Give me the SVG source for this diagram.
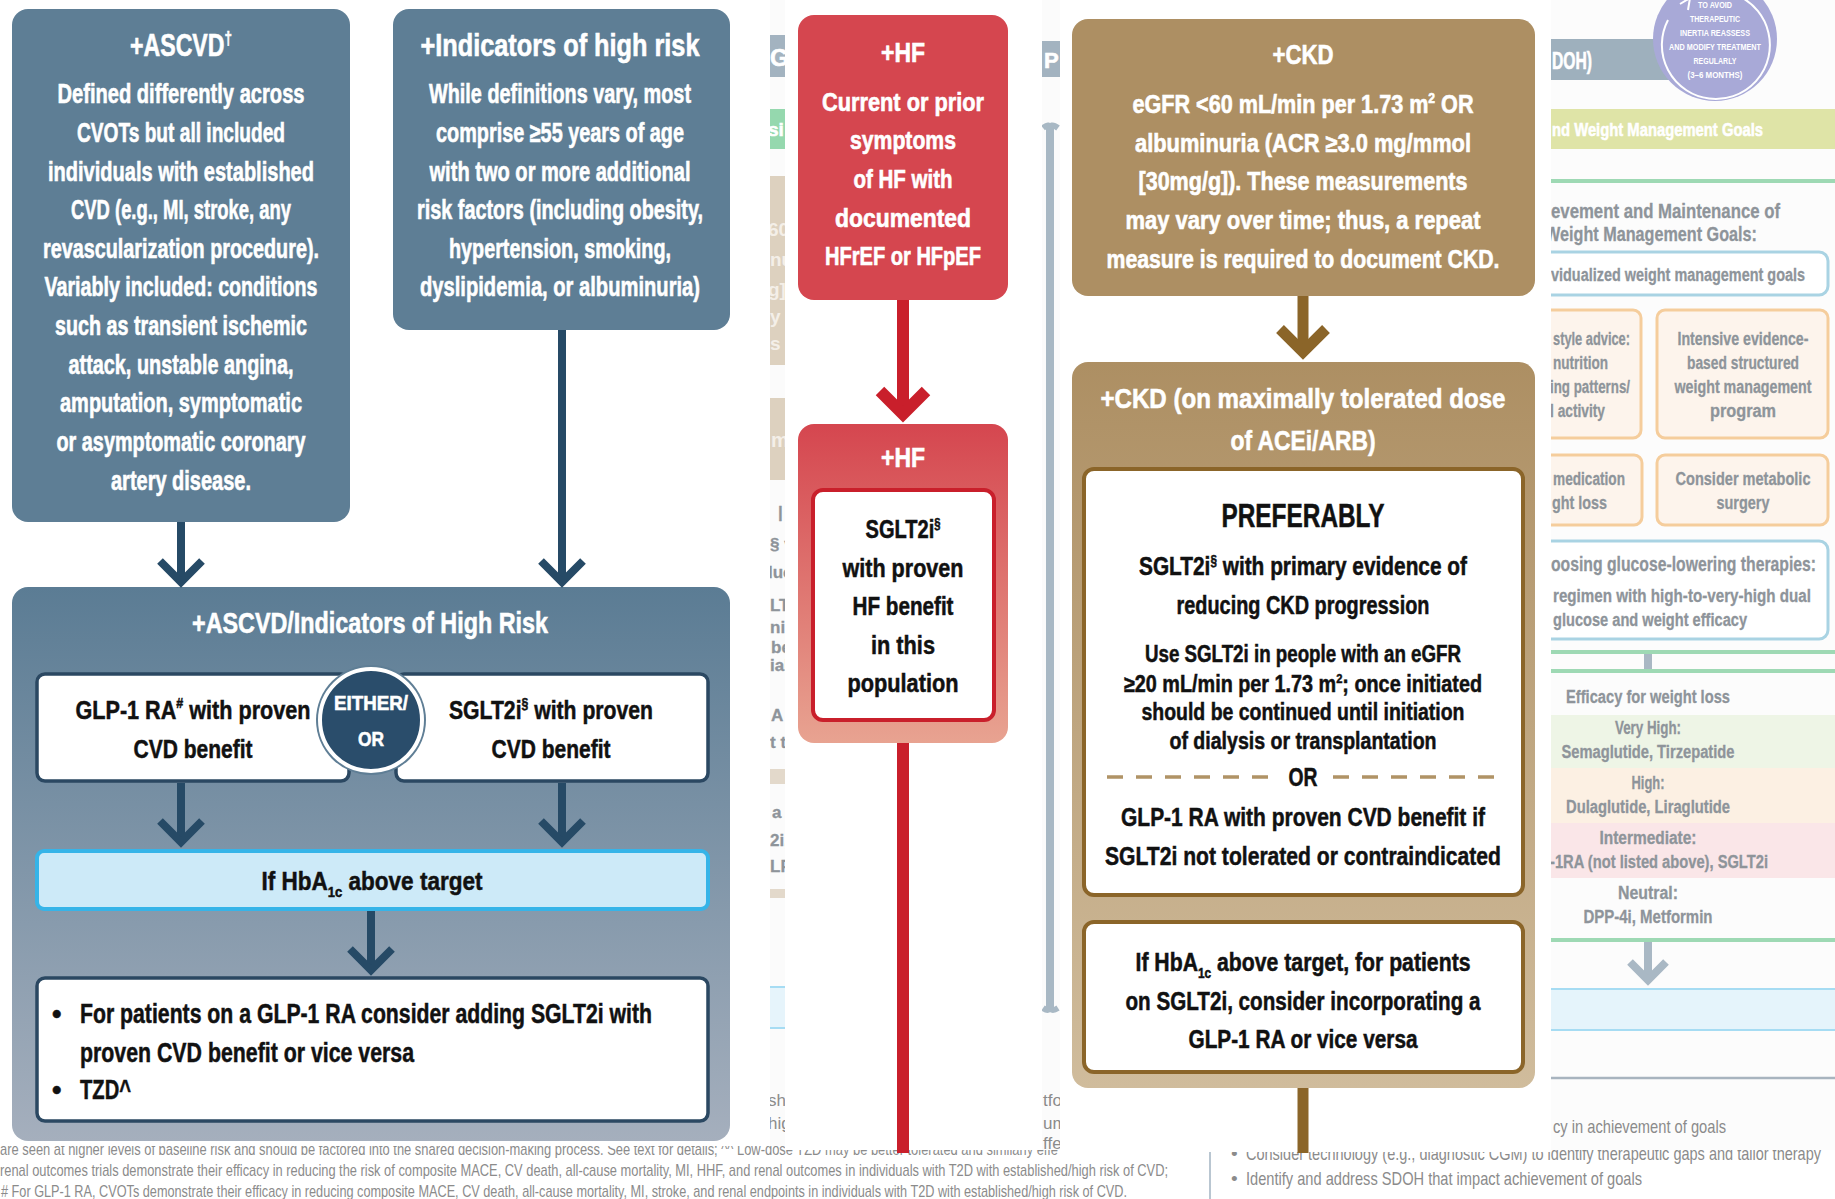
<svg xmlns="http://www.w3.org/2000/svg" width="1835" height="1199" viewBox="0 0 1835 1199">
<defs>
<style>
.t{font-family:"Liberation Sans",Arial,sans-serif;font-weight:bold;}
.w{fill:#ffffff;stroke:#ffffff;stroke-width:0.6;}
.k{fill:#111111;stroke:#111111;stroke-width:0.5;}
.c{text-anchor:middle;}
.e{text-anchor:end;}
.g{fill:#8e949a;stroke:#8e949a;stroke-width:0.3;}
.fn{font-family:"Liberation Sans",Arial,sans-serif;fill:#8b8b8b;font-size:17px;}
.navy{stroke:#264a66;fill:none;stroke-width:8;}
.red{stroke:#c91f2b;fill:none;stroke-width:12;}
.brn{stroke:#8b6529;fill:none;stroke-width:11;}
.gry{stroke:#a9b8c4;fill:none;stroke-width:8;}
.wbox{fill:#ffffff;stroke:#2b4862;stroke-width:3.5;}
.cbox{fill:#ffffff;stroke:#8b6529;stroke-width:4;}
.obox{fill:#fdf4ec;stroke:#f5cd9c;stroke-width:3;}
.bbox{fill:#ffffff;stroke:#a9d3e3;stroke-width:3;}
</style>
<linearGradient id="gBig" x1="0" y1="0" x2="0" y2="1">
<stop offset="0" stop-color="#5b7c94"/><stop offset="1" stop-color="#a5afbd"/>
</linearGradient>
<linearGradient id="gHF" x1="0" y1="0" x2="0" y2="1">
<stop offset="0" stop-color="#d5464f"/><stop offset="1" stop-color="#e8a391"/>
</linearGradient>
<linearGradient id="gCKD" x1="0" y1="0" x2="0" y2="1">
<stop offset="0" stop-color="#ad8f63"/><stop offset="1" stop-color="#d0bc9c"/>
</linearGradient>
<clipPath id="clipL"><rect x="770" y="0" width="15" height="1146"/></clipPath>
<clipPath id="clipM"><rect x="1042" y="0" width="18" height="1150"/></clipPath>
<clipPath id="clipR"><rect x="1551" y="0" width="284" height="1150"/></clipPath>
<clipPath id="clipF1"><rect x="0" y="1146" width="1060" height="30"/></clipPath>
</defs>

<rect x="0" y="0" width="1835" height="1199" fill="#ffffff"/>

<!-- footnotes (base layer) -->
<g id="footnotes">
<text class="fn" x="0" y="1155" textLength="1058" lengthAdjust="spacingAndGlyphs" clip-path="url(#clipF1)">are seen at higher levels of baseline risk and should be factored into the shared decision-making process. See text for details; ^^ Low-dose TZD may be better tolerated and similarly effe</text>
<text class="fn" x="0" y="1176" textLength="1168" lengthAdjust="spacingAndGlyphs">renal outcomes trials demonstrate their efficacy in reducing the risk of composite MACE, CV death, all-cause mortality, MI, HHF, and renal outcomes in individuals with T2D with established/high risk of CVD;</text>
<text class="fn" x="1" y="1197" textLength="1126" lengthAdjust="spacingAndGlyphs"># For GLP-1 RA, CVOTs demonstrate their efficacy in reducing composite MACE, CV death, all-cause mortality, MI, stroke, and renal endpoints in individuals with T2D with established/high risk of CVD.</text>
<line x1="1210" y1="1152" x2="1210" y2="1199" stroke="#b9c6d1" stroke-width="2"/>
<text class="fn" x="1231" y="1160" style="font-size:19px">•</text>
<text class="fn" x="1246" y="1160" style="font-size:19px" textLength="575" lengthAdjust="spacingAndGlyphs">Consider technology (e.g., diagnostic CGM) to identify therapeutic gaps and tailor therapy</text>
<text class="fn" x="1231" y="1185" style="font-size:19px">•</text>
<text class="fn" x="1246" y="1185" style="font-size:19px" textLength="396" lengthAdjust="spacingAndGlyphs">Identify and address SDOH that impact achievement of goals</text>
</g>

<!-- column backgrounds covering footnote tops -->
<rect x="785" y="0" width="257" height="1150" fill="#ffffff"/>
<rect x="1060" y="0" width="491" height="1152" fill="#ffffff"/>

<!-- left strip fragments -->
<g id="stripLeft" clip-path="url(#clipL)">
<rect x="770" y="0" width="15" height="1146" fill="#fbfbfb"/>
<rect x="760" y="35" width="30" height="42" fill="#a3b3c0"/>
<text class="t w" x="770" y="66" font-size="24">G</text>
<rect x="760" y="109" width="30" height="40" fill="#95d8ae"/>
<text class="t w" x="768" y="136" font-size="19">si</text>
<rect x="760" y="176" width="30" height="189" fill="#ddd1bf"/>
<g class="t" fill="#f4efe8" font-size="19">
<text x="768" y="236">60</text><text x="770" y="266">nu</text><text x="768" y="296">g]</text><text x="770" y="323">y</text><text x="770" y="350">s</text>
</g>
<rect x="760" y="398" width="30" height="82" fill="#ddd1bf"/>
<text class="t" fill="#f4efe8" x="771" y="447" font-size="20">m</text>
<g class="t g" font-size="17">
<text x="778" y="518">|</text><text x="770" y="550">§ v</text><text x="768" y="578">luc</text><text x="770" y="611">LT</text><text x="770" y="633">ni</text><text x="771" y="653">be</text><text x="770" y="671">ial</text><text x="771" y="721">A</text><text x="770" y="748">t t</text>
<text x="772" y="818">a</text><text x="770" y="846">2i,</text><text x="770" y="872">LP</text>
</g>
<rect x="760" y="769" width="30" height="15" fill="#e3d9cb"/>
<rect x="760" y="889" width="30" height="9" fill="#e3d9cb"/>
<rect x="760" y="987" width="30" height="41" fill="#e6f4fb" stroke="#a6dcf3" stroke-width="2"/>
<g class="fn"><text x="768" y="1106">sho</text><text x="768" y="1129">hig</text></g>
</g>

<!-- middle strip fragments -->
<g id="stripMid" clip-path="url(#clipM)">
<rect x="1042" y="0" width="18" height="1150" fill="#fbfbfb"/>
<rect x="1030" y="41" width="40" height="36" fill="#a3b3c0"/>
<text class="t w" x="1044" y="68" font-size="22">P</text>
<path d="M1043,128 Q1050,122 1050,130 L1050,1005 Q1050,1013 1043,1008 M1058,128 Q1050,122 1050,130 M1058,1008 Q1050,1013 1050,1005" stroke="#a8b8c4" stroke-width="6" fill="none"/>
<line x1="1050" y1="128" x2="1050" y2="1008" stroke="#a8b8c4" stroke-width="8"/>
<g class="fn"><text x="1043" y="1106">tfo</text><text x="1043" y="1129">um</text><text x="1043" y="1149">ffe</text></g>
</g>

<!-- right panel fragments -->
<g id="rightPanel" clip-path="url(#clipR)">
<rect x="1551" y="0" width="284" height="1150" fill="#fcfcfc"/>
<rect x="1540" y="39" width="170" height="41" fill="#9eb0bd"/>
<text class="t w" x="1552" y="69" font-size="23" textLength="40" lengthAdjust="spacingAndGlyphs">DOH)</text>
<g id="circle">
<circle cx="1715" cy="39" r="62" fill="#a8a9d7"/>
<path d="M1668,20 A54,54 0 1 0 1686,0" stroke="#ffffff" stroke-width="2" fill="none"/>
<path d="M1680,4 L1690,-2 L1688,10" stroke="#ffffff" stroke-width="2" fill="none"/>
<g class="t c" fill="#ffffff" font-size="9">
<text x="1715" y="8" textLength="34" lengthAdjust="spacingAndGlyphs">TO AVOID</text>
<text x="1715" y="22" textLength="50" lengthAdjust="spacingAndGlyphs">THERAPEUTIC</text>
<text x="1715" y="36" textLength="70" lengthAdjust="spacingAndGlyphs">INERTIA REASSESS</text>
<text x="1715" y="50" textLength="92" lengthAdjust="spacingAndGlyphs">AND MODIFY TREATMENT</text>
<text x="1715" y="64" textLength="43" lengthAdjust="spacingAndGlyphs">REGULARLY</text>
<text x="1715" y="78" textLength="55" lengthAdjust="spacingAndGlyphs">(3–6 MONTHS)</text>
</g>
</g>
<rect x="1540" y="109" width="300" height="40" fill="#dfe4a7"/>
<text class="t w" x="1552" y="136" font-size="19" textLength="211" lengthAdjust="spacingAndGlyphs">nd Weight Management Goals</text>
<line x1="1540" y1="181" x2="1835" y2="181" stroke="#9ed9b4" stroke-width="4"/>
<text class="t g e" x="1780" y="218" font-size="21" textLength="229" lengthAdjust="spacingAndGlyphs">evement and Maintenance of</text>
<text class="t g e" x="1757" y="241" font-size="21" textLength="212" lengthAdjust="spacingAndGlyphs">Weight Management Goals:</text>
<rect class="bbox" x="1530" y="252" width="298" height="43" rx="9"/>
<text class="t g e" x="1805" y="281" font-size="18" textLength="254" lengthAdjust="spacingAndGlyphs">vidualized weight management goals</text>
<rect class="obox" x="1500" y="310" width="141" height="128" rx="8"/>
<rect class="obox" x="1657" y="310" width="171" height="128" rx="8"/>
<g class="t g" font-size="18">
<text class="e" x="1630" y="345" textLength="77" lengthAdjust="spacingAndGlyphs">style advice:</text>
<text class="e" x="1608" y="369" textLength="55" lengthAdjust="spacingAndGlyphs">nutrition</text>
<text class="e" x="1630" y="393" textLength="80" lengthAdjust="spacingAndGlyphs">ing patterns/</text>
<text class="e" x="1605" y="417" textLength="55" lengthAdjust="spacingAndGlyphs">l activity</text>
<text class="c" x="1743" y="345" textLength="131" lengthAdjust="spacingAndGlyphs">Intensive evidence-</text>
<text class="c" x="1743" y="369" textLength="112" lengthAdjust="spacingAndGlyphs">based structured</text>
<text class="c" x="1743" y="393" textLength="137" lengthAdjust="spacingAndGlyphs">weight management</text>
<text class="c" x="1743" y="417" textLength="66" lengthAdjust="spacingAndGlyphs">program</text>
</g>
<rect class="obox" x="1500" y="455" width="142" height="70" rx="8"/>
<rect class="obox" x="1657" y="455" width="171" height="70" rx="8"/>
<g class="t g" font-size="18">
<text class="e" x="1625" y="485" textLength="72" lengthAdjust="spacingAndGlyphs">medication</text>
<text class="e" x="1607" y="509" textLength="55" lengthAdjust="spacingAndGlyphs">ght loss</text>
<text class="c" x="1743" y="485" textLength="135" lengthAdjust="spacingAndGlyphs">Consider metabolic</text>
<text class="c" x="1743" y="509" textLength="53" lengthAdjust="spacingAndGlyphs">surgery</text>
</g>
<rect class="bbox" x="1530" y="541" width="298" height="98" rx="9"/>
<text class="t g e" x="1816" y="571" font-size="21" textLength="265" lengthAdjust="spacingAndGlyphs">oosing glucose-lowering therapies:</text>
<text class="t g" x="1553" y="602" font-size="18" textLength="258" lengthAdjust="spacingAndGlyphs">regimen with high-to-very-high dual</text>
<text class="t g" x="1553" y="626" font-size="18" textLength="194" lengthAdjust="spacingAndGlyphs">glucose and weight efficacy</text>
<line x1="1540" y1="652" x2="1835" y2="652" stroke="#9ed9b4" stroke-width="4"/>
<line x1="1648" y1="654" x2="1648" y2="669" stroke="#a9b8c4" stroke-width="8"/>
<line x1="1540" y1="671" x2="1835" y2="671" stroke="#9ed9b4" stroke-width="4"/>
<text class="t g c" x="1648" y="703" font-size="18" textLength="164" lengthAdjust="spacingAndGlyphs">Efficacy for weight loss</text>
<rect x="1540" y="715" width="300" height="53" fill="#eef5e6"/>
<rect x="1540" y="768" width="300" height="55" fill="#fcf0e3"/>
<rect x="1540" y="823" width="300" height="55" fill="#fae6e8"/>
<g class="t g c" font-size="18">
<text x="1648" y="734" textLength="66" lengthAdjust="spacingAndGlyphs">Very High:</text>
<text x="1648" y="758" textLength="173" lengthAdjust="spacingAndGlyphs">Semaglutide, Tirzepatide</text>
<text x="1648" y="789" textLength="33" lengthAdjust="spacingAndGlyphs">High:</text>
<text x="1648" y="813" textLength="164" lengthAdjust="spacingAndGlyphs">Dulaglutide, Liraglutide</text>
<text x="1648" y="844" textLength="97" lengthAdjust="spacingAndGlyphs">Intermediate:</text>
<text class="e" x="1768" y="868" textLength="218" lengthAdjust="spacingAndGlyphs">-1RA (not listed above), SGLT2i</text>
<text x="1648" y="899" textLength="60" lengthAdjust="spacingAndGlyphs">Neutral:</text>
<text x="1648" y="923" textLength="129" lengthAdjust="spacingAndGlyphs">DPP-4i, Metformin</text>
</g>
<line x1="1540" y1="940" x2="1835" y2="940" stroke="#9ed9b4" stroke-width="4"/>
<line class="gry" x1="1648" y1="942" x2="1648" y2="978"/>
<path class="gry" d="M1630,962 L1648,980 L1666,962"/>
<rect x="1540" y="989" width="300" height="41" fill="#e5f4fb"/>
<line x1="1540" y1="989" x2="1835" y2="989" stroke="#a6dcf3" stroke-width="2"/>
<line x1="1540" y1="1030" x2="1835" y2="1030" stroke="#a6dcf3" stroke-width="2"/>
<line x1="1540" y1="1078" x2="1835" y2="1078" stroke="#a8b4bf" stroke-width="2.5"/>
<text class="fn" x="1553" y="1133" style="font-size:19px" textLength="173" lengthAdjust="spacingAndGlyphs">cy in achievement of goals</text>
</g>

<!-- ===== Left (ASCVD) column ===== -->
<g id="node-ascvd">
<rect x="12" y="9" width="338" height="513" rx="16" fill="#5e7e95"/>
<text class="t w c" x="181" y="56" font-size="31" textLength="102" lengthAdjust="spacingAndGlyphs">+ASCVD<tspan font-size="18" dy="-12">†</tspan></text>
<g class="t w c" font-size="27">
<text x="181" y="103" textLength="247" lengthAdjust="spacingAndGlyphs">Defined differently across</text>
<text x="181" y="142" textLength="208" lengthAdjust="spacingAndGlyphs">CVOTs but all included</text>
<text x="181" y="181" textLength="266" lengthAdjust="spacingAndGlyphs">individuals with established</text>
<text x="181" y="219" textLength="220" lengthAdjust="spacingAndGlyphs">CVD (e.g., MI, stroke, any</text>
<text x="181" y="258" textLength="276" lengthAdjust="spacingAndGlyphs">revascularization procedure).</text>
<text x="181" y="296" textLength="273" lengthAdjust="spacingAndGlyphs">Variably included: conditions</text>
<text x="181" y="335" textLength="252" lengthAdjust="spacingAndGlyphs">such as transient ischemic</text>
<text x="181" y="374" textLength="225" lengthAdjust="spacingAndGlyphs">attack, unstable angina,</text>
<text x="181" y="412" textLength="242" lengthAdjust="spacingAndGlyphs">amputation, symptomatic</text>
<text x="181" y="451" textLength="249" lengthAdjust="spacingAndGlyphs">or asymptomatic coronary</text>
<text x="181" y="490" textLength="140" lengthAdjust="spacingAndGlyphs">artery disease.</text>
</g>
</g>

<g id="node-indicators">
<rect x="393" y="9" width="337" height="321" rx="16" fill="#5e7e95"/>
<text class="t w c" x="560" y="56" font-size="31" textLength="279" lengthAdjust="spacingAndGlyphs">+Indicators of high risk</text>
<g class="t w c" font-size="27">
<text x="560" y="103" textLength="262" lengthAdjust="spacingAndGlyphs">While definitions vary, most</text>
<text x="560" y="142" textLength="248" lengthAdjust="spacingAndGlyphs">comprise ≥55 years of age</text>
<text x="560" y="181" textLength="261" lengthAdjust="spacingAndGlyphs">with two or more additional</text>
<text x="560" y="219" textLength="286" lengthAdjust="spacingAndGlyphs">risk factors (including obesity,</text>
<text x="560" y="258" textLength="222" lengthAdjust="spacingAndGlyphs">hypertension, smoking,</text>
<text x="560" y="296" textLength="280" lengthAdjust="spacingAndGlyphs">dyslipidemia, or albuminuria)</text>
</g>
</g>

<g id="node-highrisk">
<rect x="12" y="587" width="718" height="554" rx="16" fill="url(#gBig)"/>
<text class="t w c" x="370" y="633" font-size="30" textLength="356" lengthAdjust="spacingAndGlyphs">+ASCVD/Indicators of High Risk</text>
</g>

<g id="node-glp1">
<rect class="wbox" x="37" y="674" width="312" height="107" rx="8"/>
<g class="t k c" font-size="26">
<text x="193" y="719" textLength="235" lengthAdjust="spacingAndGlyphs">GLP-1 RA<tspan font-size="15" dy="-11">#</tspan><tspan dy="11"> with proven</tspan></text>
<text x="193" y="758" textLength="119" lengthAdjust="spacingAndGlyphs">CVD benefit</text>
</g>
</g>

<g id="node-sglt2">
<rect class="wbox" x="396" y="674" width="312" height="107" rx="8"/>
<g class="t k c" font-size="26">
<text x="551" y="719" textLength="204" lengthAdjust="spacingAndGlyphs">SGLT2i<tspan font-size="15" dy="-11">§</tspan><tspan dy="11"> with proven</tspan></text>
<text x="551" y="758" textLength="119" lengthAdjust="spacingAndGlyphs">CVD benefit</text>
</g>
</g>

<g id="node-eitheror">
<circle cx="371" cy="720" r="55" fill="#5f7e95"/>
<circle cx="371" cy="720" r="51" fill="#2a4d6b" stroke="#ffffff" stroke-width="4"/>
<g class="t w c" font-size="21">
<text x="371" y="710" textLength="74" lengthAdjust="spacingAndGlyphs">EITHER/</text>
<text x="371" y="746" textLength="26" lengthAdjust="spacingAndGlyphs">OR</text>
</g>
</g>

<g id="node-hba1c">
<rect x="37" y="851" width="671" height="58" rx="7" fill="#cdeaf8" stroke="#36b4e8" stroke-width="4"/>
<text class="t k c" x="372" y="890" font-size="26" textLength="221" lengthAdjust="spacingAndGlyphs">If HbA<tspan font-size="15" dy="7">1c</tspan><tspan dy="-7"> above target</tspan></text>
</g>

<g id="node-addon">
<rect class="wbox" x="37" y="978" width="671" height="143" rx="8"/>
<g class="t k" font-size="27">
<text x="52" y="1023">•</text>
<text x="80" y="1023" textLength="572" lengthAdjust="spacingAndGlyphs">For patients on a GLP-1 RA consider adding SGLT2i with</text>
<text x="80" y="1062" textLength="334" lengthAdjust="spacingAndGlyphs">proven CVD benefit or vice versa</text>
<text x="52" y="1099">•</text>
<text x="80" y="1099" textLength="51" lengthAdjust="spacingAndGlyphs">TZD^</text>
</g>
</g>

<!-- ===== HF column ===== -->
<g id="node-hf1">
<rect x="798" y="15" width="210" height="285" rx="16" fill="#d5464f"/>
<text class="t w c" x="903" y="62" font-size="28" textLength="44" lengthAdjust="spacingAndGlyphs">+HF</text>
<g class="t w c" font-size="25">
<text x="903" y="111" textLength="162" lengthAdjust="spacingAndGlyphs">Current or prior</text>
<text x="903" y="149" textLength="106" lengthAdjust="spacingAndGlyphs">symptoms</text>
<text x="903" y="188" textLength="99" lengthAdjust="spacingAndGlyphs">of HF with</text>
<text x="903" y="227" textLength="136" lengthAdjust="spacingAndGlyphs">documented</text>
<text x="903" y="265" textLength="156" lengthAdjust="spacingAndGlyphs">HFrEF or HFpEF</text>
</g>
</g>

<g id="node-hf2">
<rect x="798" y="424" width="210" height="319" rx="16" fill="url(#gHF)"/>
<text class="t w c" x="903" y="467" font-size="28" textLength="44" lengthAdjust="spacingAndGlyphs">+HF</text>
<rect x="813" y="490" width="181" height="230" rx="10" fill="#ffffff" stroke="#c91f2b" stroke-width="4"/>
<g class="t k c" font-size="25">
<text x="903" y="538" textLength="75" lengthAdjust="spacingAndGlyphs">SGLT2i<tspan font-size="14" dy="-10">§</tspan></text>
<text x="903" y="577" textLength="121" lengthAdjust="spacingAndGlyphs">with proven</text>
<text x="903" y="615" textLength="101" lengthAdjust="spacingAndGlyphs">HF benefit</text>
<text x="903" y="654" textLength="64" lengthAdjust="spacingAndGlyphs">in this</text>
<text x="903" y="692" textLength="111" lengthAdjust="spacingAndGlyphs">population</text>
</g>
</g>

<!-- ===== CKD column ===== -->
<g id="node-ckd1">
<rect x="1072" y="19" width="463" height="277" rx="16" fill="#ad8f63"/>
<text class="t w c" x="1303" y="64" font-size="28" textLength="61" lengthAdjust="spacingAndGlyphs">+CKD</text>
<g class="t w c" font-size="25">
<text x="1303" y="113" textLength="341" lengthAdjust="spacingAndGlyphs">eGFR &lt;60 mL/min per 1.73 m<tspan font-size="14" dy="-10">2</tspan><tspan dy="10"> OR</tspan></text>
<text x="1303" y="152" textLength="336" lengthAdjust="spacingAndGlyphs">albuminuria (ACR ≥3.0 mg/mmol</text>
<text x="1303" y="190" textLength="329" lengthAdjust="spacingAndGlyphs">[30mg/g]). These measurements</text>
<text x="1303" y="229" textLength="355" lengthAdjust="spacingAndGlyphs">may vary over time; thus, a repeat</text>
<text x="1303" y="268" textLength="393" lengthAdjust="spacingAndGlyphs">measure is required to document CKD.</text>
</g>
</g>

<g id="node-ckd2">
<rect x="1072" y="362" width="463" height="726" rx="16" fill="url(#gCKD)"/>
<g class="t w c" font-size="28">
<text x="1303" y="408" textLength="405" lengthAdjust="spacingAndGlyphs">+CKD (on maximally tolerated dose</text>
<text x="1303" y="450" textLength="145" lengthAdjust="spacingAndGlyphs">of ACEi/ARB)</text>
</g>
</g>

<g id="node-preferably">
<rect class="cbox" x="1084" y="469" width="439" height="426" rx="10"/>
<text class="t k c" x="1303" y="527" font-size="33" textLength="163" lengthAdjust="spacingAndGlyphs">PREFERABLY</text>
<g class="t k c" font-size="25">
<text x="1303" y="575" textLength="328" lengthAdjust="spacingAndGlyphs">SGLT2i<tspan font-size="14" dy="-10">§</tspan><tspan dy="10"> with primary evidence of</tspan></text>
<text x="1303" y="614" textLength="253" lengthAdjust="spacingAndGlyphs">reducing CKD progression</text>
</g>
<g class="t k c" font-size="23">
<text x="1303" y="662" textLength="316" lengthAdjust="spacingAndGlyphs">Use SGLT2i in people with an eGFR</text>
<text x="1303" y="692" textLength="358" lengthAdjust="spacingAndGlyphs">≥20 mL/min per 1.73 m<tspan font-size="13" dy="-9">2</tspan><tspan dy="9">; once initiated</tspan></text>
<text x="1303" y="720" textLength="323" lengthAdjust="spacingAndGlyphs">should be continued until initiation</text>
<text x="1303" y="749" textLength="267" lengthAdjust="spacingAndGlyphs">of dialysis or transplantation</text>
</g>
<line x1="1107" y1="777" x2="1277" y2="777" stroke="#b09366" stroke-width="3.5" stroke-dasharray="16,13"/>
<line x1="1333" y1="777" x2="1503" y2="777" stroke="#b09366" stroke-width="3.5" stroke-dasharray="16,13"/>
<text class="t k c" x="1303" y="786" font-size="25" textLength="29" lengthAdjust="spacingAndGlyphs">OR</text>
<g class="t k c" font-size="26">
<text x="1303" y="826" textLength="364" lengthAdjust="spacingAndGlyphs">GLP-1 RA with proven CVD benefit if</text>
<text x="1303" y="865" textLength="396" lengthAdjust="spacingAndGlyphs">SGLT2i not tolerated or contraindicated</text>
</g>
</g>

<g id="node-ckd-hba1c">
<rect class="cbox" x="1084" y="922" width="439" height="150" rx="10"/>
<g class="t k c" font-size="25">
<text x="1303" y="971" textLength="335" lengthAdjust="spacingAndGlyphs">If HbA<tspan font-size="14" dy="7">1c</tspan><tspan dy="-7"> above target, for patients</tspan></text>
<text x="1303" y="1010" textLength="355" lengthAdjust="spacingAndGlyphs">on SGLT2i, consider incorporating a</text>
<text x="1303" y="1048" textLength="229" lengthAdjust="spacingAndGlyphs">GLP-1 RA or vice versa</text>
</g>
</g>

<!-- ===== connectors ===== -->
<g id="connectors">
<line class="navy" x1="181" y1="522" x2="181" y2="582"/>
<path class="navy" d="M160,561 L181,582 L202,561"/>
<line class="navy" x1="562" y1="330" x2="562" y2="582"/>
<path class="navy" d="M541,561 L562,582 L583,561"/>
<line class="navy" x1="181" y1="783" x2="181" y2="842"/>
<path class="navy" d="M160,821 L181,842 L202,821"/>
<line class="navy" x1="562" y1="783" x2="562" y2="842"/>
<path class="navy" d="M541,821 L562,842 L583,821"/>
<line class="navy" x1="371" y1="911" x2="371" y2="970"/>
<path class="navy" d="M350,949 L371,970 L392,949"/>
<line class="red" x1="903" y1="300" x2="903" y2="414"/>
<path class="red" d="M880,391 L903,414 L926,391"/>
<line class="red" x1="903" y1="743" x2="903" y2="1153"/>
<line class="brn" x1="1303" y1="296" x2="1303" y2="352"/>
<path class="brn" d="M1280,329 L1303,352 L1326,329"/>
<line class="brn" x1="1303" y1="1088" x2="1303" y2="1153"/>
</g>
</svg>
